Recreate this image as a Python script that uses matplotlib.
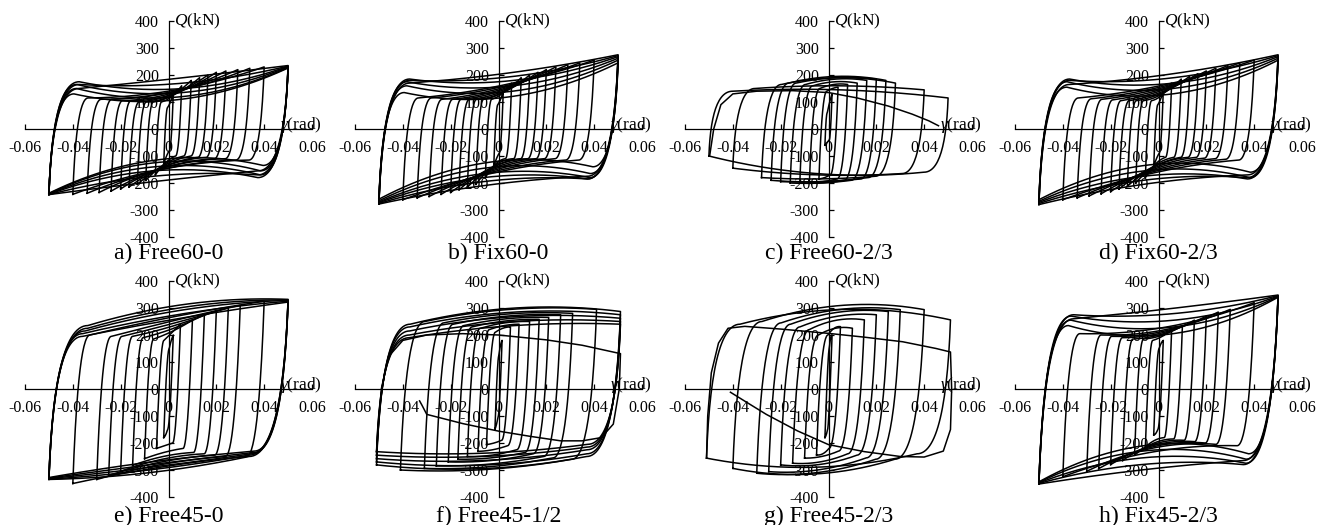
import numpy as np
import matplotlib.pyplot as plt

plt.rcParams['font.family'] = 'Liberation Serif'
plt.rcParams['mathtext.fontset'] = 'custom'
plt.rcParams['mathtext.rm'] = 'Liberation Serif'
plt.rcParams['mathtext.it'] = 'Liberation Serif:italic'
plt.rcParams['axes.unicode_minus'] = False

# one row per cycle:
# (amplitude rad, Q at +amp, Q at -amp, knee up, knee down, mid up, mid down, knee width)
cyc_a = [
    (0.002, 130, -130, 80, -80, 100, -100, 0.0008),
    (0.0055, 160, -170, 100, -100, 120, -125, 0.0015),
    (0.0095, 180, -190, 100, -100, 125, -130, 0.002),
    (0.013, 190, -205, 100, -100, 125, -135, 0.0025),
    (0.0165, 200, -215, 100, -105, 130, -140, 0.003),
    (0.02, 210, -222, 105, -105, 130, -140, 0.003),
    (0.024, 215, -230, 105, -110, 135, -145, 0.0035),
    (0.029, 220, -235, 110, -110, 140, -145, 0.004),
    (0.034, 225, -238, 110, -115, 140, -150, 0.0045),
    (0.04, 230, -242, 115, -115, 145, -150, 0.005),
    (0.05, 235, -243, 150, -155, 190, -195, 0.011),
    (0.05, 233, -243, 165, -170, 170, -175, 0.011),
    (0.05, 232, -242, 175, -180, 150, -155, 0.011),
    (0.05, 230, -241, 165, -170, 135, -140, 0.010),
    (0.05, 228, -240, 150, -155, 120, -125, 0.010),
    (0.05, 226, -238, 130, -135, 110, -115, 0.009),
]
cyc_b = [
    (0.002, 140, -140, 90, -90, 110, -110, 0.0008),
    (0.0055, 170, -180, 110, -110, 130, -130, 0.0015),
    (0.0095, 190, -205, 110, -110, 135, -135, 0.002),
    (0.013, 200, -215, 110, -110, 135, -140, 0.0025),
    (0.0165, 210, -225, 110, -110, 140, -140, 0.003),
    (0.02, 220, -235, 110, -110, 145, -145, 0.003),
    (0.024, 230, -242, 110, -110, 150, -150, 0.0035),
    (0.029, 238, -250, 110, -110, 155, -155, 0.004),
    (0.034, 245, -255, 115, -115, 160, -160, 0.0045),
    (0.04, 255, -262, 115, -115, 165, -165, 0.005),
    (0.05, 275, -278, 170, -175, 210, -210, 0.011),
    (0.05, 272, -276, 180, -185, 195, -195, 0.011),
    (0.05, 268, -273, 185, -185, 180, -180, 0.011),
    (0.05, 262, -270, 175, -180, 160, -165, 0.010),
    (0.05, 255, -266, 160, -165, 140, -145, 0.010),
    (0.05, 245, -260, 135, -140, 120, -125, 0.009),
]
cyc_c = [
    (0.0015, 130, -60, 60, -40, 100, -50, 0.0005),
    (0.004, 155, -185, 140, -170, 150, -180, 0.002),
    (0.008, 165, -200, 150, -185, 165, -195, 0.003),
    (0.012, 170, -200, 160, -190, 175, -200, 0.004),
    (0.016, 180, -200, 165, -190, 185, -200, 0.005),
    (0.02, 185, -195, 170, -185, 190, -195, 0.005),
    (0.024, 180, -190, 170, -180, 195, -195, 0.006),
    (0.028, 170, -180, 165, -175, 190, -185, 0.007),
    (0.04, 145, -145, 150, -165, 160, -170, 0.008),
    (0.05, 115, -100, 140, -160, 145, -165, 0.009),
]
cyc_d = [
    (0.002, 140, -140, 90, -90, 110, -110, 0.0008),
    (0.0055, 170, -180, 105, -105, 125, -130, 0.0015),
    (0.0095, 185, -200, 105, -105, 130, -135, 0.002),
    (0.013, 195, -212, 105, -105, 135, -140, 0.0025),
    (0.0165, 205, -222, 105, -105, 140, -140, 0.003),
    (0.02, 215, -232, 105, -105, 145, -145, 0.003),
    (0.024, 225, -240, 108, -108, 150, -150, 0.0035),
    (0.029, 235, -248, 110, -110, 155, -155, 0.004),
    (0.034, 245, -255, 112, -112, 160, -160, 0.0045),
    (0.04, 255, -262, 115, -115, 165, -165, 0.005),
    (0.05, 275, -280, 165, -170, 205, -205, 0.011),
    (0.05, 272, -276, 180, -180, 190, -190, 0.011),
    (0.05, 268, -272, 185, -185, 170, -175, 0.011),
    (0.05, 262, -268, 175, -180, 150, -155, 0.010),
    (0.05, 255, -262, 155, -160, 130, -135, 0.010),
]
cyc_e = [
    (0.002, 200, -180, 150, -150, 180, -170, 0.001),
    (0.005, 240, -220, 180, -200, 210, -210, 0.0015),
    (0.01, 255, -258, 185, -220, 215, -235, 0.002),
    (0.015, 275, -283, 190, -235, 225, -250, 0.0025),
    (0.02, 290, -305, 195, -240, 235, -260, 0.003),
    (0.025, 300, -320, 195, -245, 245, -270, 0.0035),
    (0.03, 310, -335, 195, -250, 255, -280, 0.004),
    (0.04, 325, -350, 200, -250, 270, -290, 0.005),
    (0.05, 332, -335, 235, -250, 315, -310, 0.014),
    (0.05, 330, -334, 225, -245, 305, -300, 0.014),
    (0.05, 328, -332, 215, -240, 295, -290, 0.013),
    (0.05, 325, -330, 205, -235, 280, -280, 0.012),
    (0.05, 322, -328, 195, -230, 265, -270, 0.012),
]
cyc_f = [
    (0.0015, 180, -150, 120, -100, 160, -130, 0.0005),
    (0.005, 230, -206, 210, -190, 225, -200, 0.002),
    (0.0086, 240, -231, 220, -210, 235, -225, 0.003),
    (0.013, 250, -250, 225, -225, 245, -245, 0.0035),
    (0.017, 258, -260, 230, -235, 252, -255, 0.004),
    (0.021, 265, -270, 235, -240, 260, -265, 0.0045),
    (0.026, 275, -285, 240, -250, 270, -278, 0.005),
    (0.031, 280, -294, 245, -255, 278, -288, 0.006),
    (0.041, 295, -300, 250, -260, 295, -298, 0.008),
    (0.051, 287, -281, 240, -250, 300, -295, 0.012),
    (0.051, 275, -270, 230, -240, 285, -282, 0.012),
    (0.051, 262, -258, 215, -225, 268, -265, 0.012),
    (0.051, 250, -245, 200, -215, 250, -250, 0.012),
    (0.051, 240, -232, 190, -205, 235, -238, 0.012),
]
cyc_g = [
    (0.0015, 200, -180, 150, -150, 190, -170, 0.0005),
    (0.005, 231, -244, 200, -220, 225, -240, 0.003),
    (0.01, 225, -256, 200, -230, 225, -250, 0.004),
    (0.015, 256, -275, 220, -240, 255, -270, 0.005),
    (0.02, 275, -281, 230, -245, 270, -280, 0.006),
    (0.025, 287, -306, 240, -255, 285, -300, 0.007),
    (0.03, 294, -312, 245, -260, 295, -310, 0.008),
    (0.04, 294, -294, 250, -260, 310, -315, 0.010),
    (0.051, 256, -256, 240, -240, 295, -290, 0.012),
]
cyc_h = [
    (0.002, 180, -170, 150, -150, 170, -165, 0.001),
    (0.0055, 220, -215, 180, -180, 195, -190, 0.0015),
    (0.01, 235, -245, 185, -185, 200, -200, 0.002),
    (0.015, 255, -265, 185, -190, 205, -205, 0.0025),
    (0.02, 270, -280, 190, -195, 210, -210, 0.003),
    (0.025, 285, -295, 195, -200, 215, -215, 0.0035),
    (0.03, 295, -305, 200, -205, 220, -220, 0.004),
    (0.04, 320, -325, 205, -210, 230, -235, 0.005),
    (0.05, 348, -352, 260, -265, 300, -300, 0.012),
    (0.05, 346, -350, 275, -280, 280, -280, 0.012),
    (0.05, 344, -348, 270, -275, 255, -255, 0.011),
    (0.05, 342, -346, 255, -260, 230, -230, 0.011),
    (0.05, 340, -344, 235, -240, 205, -210, 0.010),
]

# last (degrading) half cycles, (gamma, Q)
tail_c = [(-0.0497, -100), (-0.048, 0), (-0.045, 90), (-0.04, 130), (-0.03, 140),
          (-0.015, 142), (0.0, 135), (0.012, 115), (0.025, 85), (0.035, 55),
          (0.042, 30), (0.046, 12)]
tail_f = [(-0.051, -232), (-0.049, 0), (-0.046, 120), (-0.04, 180), (-0.03, 200),
          (-0.015, 205), (0.0, 200), (0.02, 182), (0.035, 162), (0.051, 131),
          (0.0505, 0), (0.048, -130), (0.043, -180), (0.035, -192), (0.026, -192),
          (0.013, -175), (0.0, -156), (-0.015, -128), (-0.03, -94), (-0.032, -60),
          (-0.033, -44)]
tail_g = [(-0.051, -256), (-0.0505, -100), (-0.049, 60), (-0.046, 170), (-0.042, 225),
          (-0.035, 232), (-0.02, 222), (0.0, 206), (0.015, 192), (0.031, 175),
          (0.045, 150), (0.051, 137), (0.0515, 0), (0.051, -150), (0.048, -230),
          (0.04, -252), (0.03, -250), (0.015, -232), (0.0, -206), (-0.013, -155),
          (-0.026, -94), (-0.035, -45), (-0.041, -12)]

titles = ['a) Free60-0', 'b) Fix60-0', 'c) Free60-2/3', 'd) Fix60-2/3',
          'e) Free45-0', 'f) Free45-1/2', 'g) Free45-2/3', 'h) Fix45-2/3']
panels = [cyc_a, cyc_b, cyc_c, cyc_d, cyc_e, cyc_f, cyc_g, cyc_h]
tails = [None, None, tail_c, None, None, tail_f, tail_g, None]
xticks = [-0.06, -0.04, -0.02, 0, 0.02, 0.04, 0.06]
xticklabels = ['-0.06', '-0.04', '-0.02', '0', '0.02', '0.04', '0.06']
yticks = [-400, -300, -200, -100, 0, 100, 200, 300, 400]

STIFF = 250000.0


def branch(x0, y0, x1, y1, knee, mid, wk):
    # elastic reversal + rounded knee, then plateau through the mid value
    s = np.sign(x1 - x0)
    e = abs(knee - y0) / STIFF
    p0 = np.array([x0, y0])
    c = np.array([x0 + s * e, knee])
    p2 = np.array([x0 + s * (e + wk), knee])
    t = np.linspace(0, 1, 30)[:, None]
    k = (1 - t) ** 2 * p0 + 2 * (1 - t) * t * c + t ** 2 * p2
    pe = np.array([x1, y1])
    pm = np.array([(p2[0] + x1) / 2, mid])
    c2 = 2 * pm - (p2 + pe) / 2
    t2 = np.linspace(0, 1, 60)[:, None]
    pl = (1 - t2) ** 2 * p2 + 2 * (1 - t2) * t2 * c2 + t2 ** 2 * pe
    return np.vstack([k, pl[1:]])


fig = plt.figure(figsize=(13.24, 5.25), dpi=100)
W, H = 1324.0, 525.0
lefts = [25, 355, 685, 1015]
bottoms = [288, 28]
cap_y = [253, 516]

for i, (cyc, title) in enumerate(zip(panels, titles)):
    r, col = divmod(i, 4)
    ax = fig.add_axes([lefts[col] / W, bottoms[r] / H, 287 / W, 216 / H])
    for amp, qp, qn, ku, kd, mu, md, wk in cyc:
        up = branch(-amp, qn, amp, qp, ku, mu, wk)
        dn = branch(amp, qp, -amp, qn, kd, md, wk)
        pts = np.vstack([up, dn])
        ax.plot(pts[:, 0], pts[:, 1], color='black', lw=1.1, zorder=3)
    if tails[i] is not None:
        tx = [p[0] for p in tails[i]]
        ty = [p[1] for p in tails[i]]
        ax.plot(tx, ty, color='black', lw=1.1, zorder=3)

    ax.set_xlim(-0.06, 0.06)
    ax.set_ylim(-400, 400)
    ax.spines['left'].set_position(('data', 0))
    ax.spines['bottom'].set_position(('data', 0))
    ax.spines['top'].set_visible(False)
    ax.spines['right'].set_visible(False)
    for sp in ('left', 'bottom'):
        ax.spines[sp].set_linewidth(0.9)
        ax.spines[sp].set_zorder(2)
    ax.patch.set_alpha(0)
    ax.set_xticks(xticks)
    ax.set_xticklabels(xticklabels)
    ax.set_yticks(yticks)
    ax.tick_params(direction='in', length=3.5, width=0.9, labelsize=11.5)
    ax.tick_params(axis='x', pad=8)
    ax.tick_params(axis='y', pad=7)
    ax.text(0.0468, 16, r'$\gamma$(rad)', fontsize=12.5, ha='left', va='center')
    ax.text(0.0022, 397, r'$Q$(kN)', fontsize=12.5, ha='left', va='center')

    fig.text((lefts[col] + 143.5) / W, 1 - cap_y[r] / H, title,
             fontsize=17, ha='center', va='center')

fig.savefig('out.png', dpi=100)
